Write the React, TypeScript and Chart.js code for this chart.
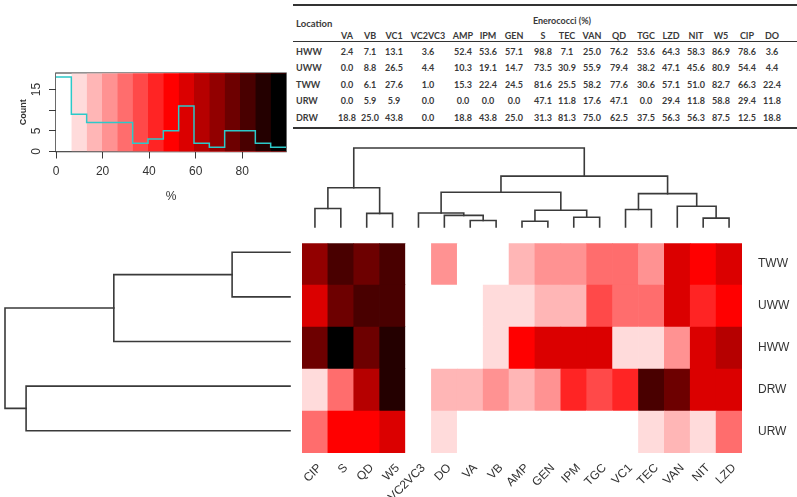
import React, { useEffect, useRef } from 'react';
import { Chart, registerables } from 'chart.js';

Chart.register(...registerables);

// ---------------- data ----------------
const tableColumns = ['VA', 'VB', 'VC1', 'VC2VC3', 'AMP', 'IPM', 'GEN', 'S', 'TEC', 'VAN', 'QD', 'TGC', 'LZD', 'NIT', 'W5', 'CIP', 'DO'];
const tableRows = ['HWW', 'UWW', 'TWW', 'URW', 'DRW'];
const hwwValues = [2.4, 7.1, 13.1, 3.6, 52.4, 53.6, 57.1, 98.8, 7.1, 25.0, 76.2, 53.6, 64.3, 58.3, 86.9, 78.6, 3.6];
const uwwValues = [0.0, 8.8, 26.5, 4.4, 10.3, 19.1, 14.7, 73.5, 30.9, 55.9, 79.4, 38.2, 47.1, 45.6, 80.9, 54.4, 4.4];
const twwValues = [0.0, 6.1, 27.6, 1.0, 15.3, 22.4, 24.5, 81.6, 25.5, 58.2, 77.6, 30.6, 57.1, 51.0, 82.7, 66.3, 22.4];
const urwValues = [0.0, 5.9, 5.9, 0.0, 0.0, 0.0, 0.0, 47.1, 11.8, 17.6, 47.1, 0.0, 29.4, 11.8, 58.8, 29.4, 11.8];
const drwValues = [18.8, 25.0, 43.8, 0.0, 18.8, 43.8, 25.0, 31.3, 81.3, 75.0, 62.5, 37.5, 56.3, 56.3, 87.5, 12.5, 18.8];

// heatmap display order (from the dendrograms)
const heatmapColumns = ['CIP', 'S', 'QD', 'W5', 'VC2VC3', 'DO', 'VA', 'VB', 'AMP', 'GEN', 'IPM', 'TGC', 'VC1', 'TEC', 'VAN', 'NIT', 'LZD'];
const heatmapRows = ['TWW', 'UWW', 'HWW', 'DRW', 'URW'];

// dendrogram topology (hclust style: negative = leaf (1-based, display order), positive = earlier merge)
const columnMerges = [
  [-7, -8], [-9, -10], [-16, -17], [-11, -12], [-6, 1], [-3, -4], [-5, 5], [2, 4],
  [-13, -14], [-1, -2], [-15, 3], [9, 11], [7, 8], [6, 10], [13, 12], [14, 15],
];
const rowMerges = [[-1, -2], [-3, 1], [-4, -5], [2, 3]];

const keyTickValues = [0, 20, 40, 60, 80];
const countTickValues = [0, 5, 10, 15];
const countTickLabels = ['0', '5', '', '15'];
const colorBinCount = 15;

// ---------------- derived ----------------
const valuesByRow: Record<string, number[]> = { HWW: hwwValues, UWW: uwwValues, TWW: twwValues, URW: urwValues, DRW: drwValues };
const cellValue = (row: string, col: string) => valuesByRow[row][tableColumns.indexOf(col)];
const allValues = tableRows.flatMap((r) => valuesByRow[r]);
const minV = Math.min(...allValues);
const maxV = Math.max(...allValues);
const binWidth = (maxV - minV) / colorBinCount;
const breaks = Array.from({ length: colorBinCount + 1 }, (_, i) => minV + i * binWidth);
const binOf = (v: number) => Math.min(colorBinCount - 1, Math.floor((v - minV) / binWidth));

function ramp(n: number) {
  const out: string[] = [];
  const mid = (n - 1) / 2;
  for (let i = 0; i < n; i++) {
    if (i <= mid) {
      const g = Math.round(255 * (1 - i / mid));
      out.push(`rgb(255,${g},${g})`);
    } else {
      const r = Math.round(255 * (1 - (i - mid) / mid));
      out.push(`rgb(${r},0,0)`);
    }
  }
  return out;
}
const palette = ramp(colorBinCount);
const colorFor = (v: number) => palette[binOf(v)];

const counts = new Array(colorBinCount).fill(0);
allValues.forEach((v) => { counts[binOf(v)] += 1; });
const countAxisMax = Math.max(...counts) / 0.95;

type Node = { pos: number; h: number; leaves: number[] };
function buildDendro(merges: number[][], dist: (i: number, j: number) => number) {
  const nodes: Node[] = [];
  const get = (id: number): Node => (id < 0 ? { pos: -id - 1 + 0.5, h: 0, leaves: [-id - 1] } : nodes[id - 1]);
  const segs: { a: Node; b: Node; h: number }[] = [];
  merges.forEach(([ia, ib]) => {
    const A = get(ia);
    const B = get(ib);
    let h = 0;
    A.leaves.forEach((i) => B.leaves.forEach((j) => { h = Math.max(h, dist(i, j)); }));
    nodes.push({ pos: (A.pos + B.pos) / 2, h, leaves: [...A.leaves, ...B.leaves] });
    segs.push({ a: A, b: B, h });
  });
  return segs;
}
const euclid = (a: number[], b: number[]) => Math.sqrt(a.reduce((s, v, k) => s + (v - b[k]) ** 2, 0));
const colVector = (i: number) => tableRows.map((r) => cellValue(r, heatmapColumns[i]));
const rowVector = (i: number) => valuesByRow[heatmapRows[i]];
const colSegs = buildDendro(columnMerges, (i, j) => euclid(colVector(i), colVector(j)));
const rowSegs = buildDendro(rowMerges, (i, j) => euclid(rowVector(i), rowVector(j)));

// ---------------- layout ----------------
const TABLE_COL_X = [347, 370, 394, 428, 463, 488, 514, 543, 567, 592, 619, 646, 671, 696, 721, 747, 772];
const TABLE_ROW_Y = [51, 67.4, 83.8, 100.2, 116.6];
const LINE_COLOR = '#3a3a3a';
const TEXT_COLOR = '#333';
const SANS = "'Liberation Sans', Arial, sans-serif";
const TABLE_FONT = "Lato, 'Open Sans', sans-serif";

const boxPlugin = {
  id: 'keyBox',
  beforeDatasetsDraw(chart: any) {
    const { ctx, chartArea: a } = chart;
    ctx.save();
    ctx.strokeStyle = LINE_COLOR;
    ctx.lineWidth = 1.5;
    ctx.strokeRect(a.left, a.top, a.right - a.left, a.bottom - a.top);
    ctx.restore();
  },
};

export default function App() {
  const keyRef = useRef<HTMLCanvasElement>(null);
  const heatRef = useRef<HTMLCanvasElement>(null);
  const colDendroRef = useRef<HTMLCanvasElement>(null);
  const rowDendroRef = useRef<HTMLCanvasElement>(null);

  useEffect(() => {
    Chart.defaults.font.family = SANS;
    Chart.defaults.color = TEXT_COLOR;
    const charts: Chart[] = [];

    // ---- colour key: each colour band starts at its break; later bands are layered over earlier ones ----
    const blockDatasets = palette.map((c, i) => ({
      type: 'line',
      data: [{ x: breaks[i], y: countAxisMax }, { x: breaks[colorBinCount], y: countAxisMax }],
      borderWidth: 0,
      borderColor: c,
      backgroundColor: c,
      fill: 'origin',
      pointRadius: 0,
      order: 100 - i,
    }));
    charts.push(new Chart(keyRef.current!, {
      type: 'line',
      data: {
        datasets: [
          {
            type: 'line',
            data: breaks.map((b, i) => ({ x: b, y: counts[Math.min(i, colorBinCount - 1)] })),
            borderColor: '#2cc9c9',
            borderWidth: 1.5,
            pointRadius: 0,
            stepped: true,
            fill: false,
            order: 1,
          },
          ...blockDatasets,
        ] as any,
      },
      options: {
        animation: false,
        responsive: false,
        maintainAspectRatio: false,
        layout: { padding: { left: 0, top: 13, right: 4, bottom: 0 } },
        plugins: { legend: { display: false }, tooltip: { enabled: false } },
        scales: {
          x: {
            type: 'linear',
            position: 'bottom',
            min: minV,
            max: maxV,
            afterBuildTicks: (s: any) => { s.ticks = keyTickValues.map((v) => ({ value: v })); },
            afterFit: (s: any) => { s.height = 58.5; },
            ticks: { font: { size: 12 }, color: TEXT_COLOR, padding: 6, autoSkip: false, maxRotation: 0 },
            grid: { display: true, drawOnChartArea: false, drawTicks: true, tickLength: 7, color: LINE_COLOR },
            border: { display: false },
            title: { display: true, text: '%', font: { size: 12 }, color: TEXT_COLOR, padding: { top: 0, bottom: 6 } },
          },
          y: {
            type: 'linear',
            min: 0,
            max: countAxisMax,
            afterBuildTicks: (s: any) => { s.ticks = countTickValues.map((v) => ({ value: v })); },
            afterFit: (s: any) => { s.width = 56; },
            ticks: {
              font: { size: 12 },
              color: TEXT_COLOR,
              padding: 6,
              minRotation: 90,
              maxRotation: 90,
              crossAlign: 'center',
              autoSkip: false,
              callback: (_v: any, i: number) => countTickLabels[i],
            },
            grid: { display: true, drawOnChartArea: false, drawTicks: true, tickLength: 7, color: LINE_COLOR },
            border: { display: false },
            title: { display: true, text: 'Count', font: { size: 9, weight: 'bold' }, color: TEXT_COLOR, padding: { top: 18, bottom: 0 } },
          },
        },
      } as any,
      plugins: [boxPlugin],
    } as any));

    // ---- heatmap ----
    const stackedRows = [...heatmapRows].reverse();
    charts.push(new Chart(heatRef.current!, {
      type: 'bar',
      data: {
        labels: heatmapColumns,
        datasets: stackedRows.map((r) => ({
          label: r,
          data: heatmapColumns.map(() => 1),
          backgroundColor: heatmapColumns.map((c) => colorFor(cellValue(r, c))),
          borderWidth: 0,
          barPercentage: 1,
          categoryPercentage: 1,
        })),
      },
      options: {
        animation: false,
        responsive: false,
        maintainAspectRatio: false,
        layout: { padding: { left: 12, top: 10, right: 0, bottom: 0 } },
        plugins: { legend: { display: false }, tooltip: { enabled: false } },
        scales: {
          x: {
            stacked: true,
            afterFit: (s: any) => { s.height = 44; },
            grid: { display: false, drawTicks: false },
            border: { display: false },
            ticks: { autoSkip: false, minRotation: 45, maxRotation: 45, padding: 8, labelOffset: 5, font: { size: 12 }, color: TEXT_COLOR },
          },
          y: {
            stacked: true,
            position: 'right',
            min: 0,
            max: stackedRows.length,
            afterBuildTicks: (s: any) => { s.ticks = stackedRows.map((_, i) => ({ value: i + 0.5 })); },
            afterFit: (s: any) => { s.width = 55; },
            grid: { display: false, drawTicks: false },
            border: { display: false },
            ticks: {
              autoSkip: false,
              padding: 16,
              font: { size: 12 },
              color: TEXT_COLOR,
              callback: (_v: any, i: number) => stackedRows[i],
            },
          },
        },
      } as any,
    }));

    const lineDs = (pts: { x: number; y: number }[]) => ({
      data: pts,
      showLine: true,
      borderColor: LINE_COLOR,
      borderWidth: 1.6,
      pointRadius: 0,
      tension: 0,
      fill: false,
      clip: false,
      borderJoinStyle: 'miter',
      borderCapStyle: 'square',
    });

    // ---- column dendrogram ----
    const colRoot = colSegs[colSegs.length - 1].h;
    charts.push(new Chart(colDendroRef.current!, {
      type: 'scatter',
      data: {
        datasets: colSegs.map((s) => lineDs([
          { x: s.a.pos, y: s.a.h }, { x: s.a.pos, y: s.h }, { x: s.b.pos, y: s.h }, { x: s.b.pos, y: s.b.h },
        ])) as any,
      },
      options: {
        animation: false,
        responsive: false,
        maintainAspectRatio: false,
        layout: { padding: { left: 12, top: 10, right: 55, bottom: 6 } },
        plugins: { legend: { display: false }, tooltip: { enabled: false } },
        scales: {
          x: { type: 'linear', min: 0, max: heatmapColumns.length, display: false },
          y: { type: 'linear', min: 0, max: colRoot, display: false },
        },
      } as any,
    }));

    // ---- row dendrogram ----
    const rowRoot = rowSegs[rowSegs.length - 1].h;
    charts.push(new Chart(rowDendroRef.current!, {
      type: 'scatter',
      data: {
        datasets: rowSegs.map((s) => lineDs([
          { x: s.a.h, y: s.a.pos }, { x: s.h, y: s.a.pos }, { x: s.h, y: s.b.pos }, { x: s.b.h, y: s.b.pos },
        ])) as any,
      },
      options: {
        animation: false,
        responsive: false,
        maintainAspectRatio: false,
        layout: { padding: { left: 5, top: 10, right: 10, bottom: 7 } },
        plugins: { legend: { display: false }, tooltip: { enabled: false } },
        scales: {
          x: { type: 'linear', min: 0, max: rowRoot, reverse: true, display: false },
          y: { type: 'linear', min: 0, max: heatmapRows.length, reverse: true, display: false },
        },
      } as any,
    }));

    return () => { charts.forEach((c) => c.destroy()); };
  }, []);

  const txt = (extra: React.CSSProperties): React.CSSProperties => ({
    position: 'absolute',
    whiteSpace: 'nowrap',
    lineHeight: 1,
    fontFamily: TABLE_FONT,
    color: '#3a3a3a',
    fontWeight: 700,
    fontSize: 9,
    ...extra,
  });
  const rule = (top: number, h: number): React.CSSProperties => ({
    position: 'absolute', left: 293, top, width: 504, height: h, background: '#333',
  });

  return (
    <div style={{ position: 'fixed', left: 0, top: 0, width: 797, height: 497, background: '#fff', overflow: 'hidden' }}>
      <canvas ref={keyRef} width={290} height={150} style={{ position: 'absolute', left: 0, top: 60, width: 290, height: 150 }} />
      <canvas ref={rowDendroRef} width={300} height={240} style={{ position: 'absolute', left: 0, top: 220, width: 300, height: 240 }} />
      <canvas ref={colDendroRef} width={507} height={95} style={{ position: 'absolute', left: 290, top: 138, width: 507, height: 95 }} />
      <canvas ref={heatRef} width={507} height={277} style={{ position: 'absolute', left: 290, top: 220, width: 507, height: 277 }} />

      <div style={rule(4, 2)} />
      <div style={txt({ left: 296, top: 24, transform: 'translateY(-50%)', fontSize: 9.5 })}>Location</div>
      <div style={txt({ left: 562, top: 20, transform: 'translate(-50%,-50%)' })}>Enerococci (%)</div>
      {tableColumns.map((c, i) => (
        <div key={c} style={txt({ left: TABLE_COL_X[i], top: 35, transform: 'translate(-50%,-50%)' })}>{c}</div>
      ))}
      <div style={rule(41, 1)} />
      {tableRows.map((r, ri) => (
        <React.Fragment key={r}>
          <div style={txt({ left: 296, top: TABLE_ROW_Y[ri], transform: 'translateY(-50%)' })}>{r}</div>
          {valuesByRow[r].map((v, ci) => (
            <div key={ci} style={txt({ left: TABLE_COL_X[ci], top: TABLE_ROW_Y[ri], transform: 'translate(-50%,-50%)' })}>
              {v.toFixed(1)}
            </div>
          ))}
        </React.Fragment>
      ))}
      <div style={rule(127, 1.5)} />
    </div>
  );
}
